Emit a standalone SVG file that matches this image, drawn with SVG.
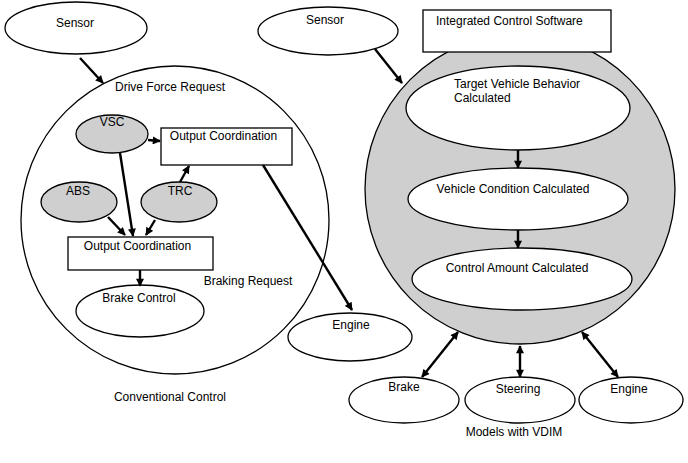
<svg xmlns="http://www.w3.org/2000/svg" width="688" height="463" viewBox="0 0 688 463">
<style>
.s{fill:#fff;stroke:#000;stroke-width:1.3}
.g{fill:#cfcfcf;stroke:#000;stroke-width:1.3}
.c{fill:none;stroke:#000;stroke-width:2.4}
.t{font-family:"Liberation Sans",Arial,sans-serif;font-size:12px;fill:#000}
.m{text-anchor:middle}
</style>
<defs>
<marker id="a" viewBox="0 0 10 10" refX="9" refY="5" markerWidth="9" markerHeight="8" markerUnits="userSpaceOnUse" orient="auto-start-reverse">
<path d="M0,0 L10,5 L0,10 z" fill="#000"/>
</marker>
</defs>
<rect width="688" height="463" fill="#fff"/>
<g id="conventional">
<circle cx="175" cy="220" r="154" class="s"/>
<text x="170" y="91" class="t m">Drive Force Request</text>
<text x="248" y="285" class="t m">Braking Request</text>
<text x="170" y="401" class="t m">Conventional Control</text>
</g>
<g id="sensor1"><ellipse cx="76" cy="28" rx="71" ry="26" class="s"/><text x="75" y="27" class="t m">Sensor</text></g>
<g id="vsc"><ellipse cx="112" cy="134" rx="36" ry="19" class="g"/><text x="112" y="126" class="t m">VSC</text></g>
<g id="oc1"><rect x="161" y="128" width="131" height="37" class="s"/><text x="223.5" y="140" class="t m">Output Coordination</text></g>
<g id="abs"><ellipse cx="79" cy="202" rx="38" ry="20" class="g"/><text x="78" y="195" class="t m">ABS</text></g>
<g id="trc"><ellipse cx="179" cy="202" rx="38" ry="20" class="g"/><text x="180" y="195" class="t m">TRC</text></g>
<g id="oc2"><rect x="68" y="237" width="145" height="33" class="s"/><text x="137.5" y="250" class="t m">Output Coordination</text></g>
<g id="brakecontrol"><ellipse cx="140" cy="311" rx="64" ry="26" class="s"/><text x="139" y="302" class="t m">Brake Control</text></g>
<g id="engine1"><ellipse cx="350" cy="337" rx="62" ry="24" class="s"/><text x="351" y="329" class="t m">Engine</text></g>
<g id="vdim">
<circle cx="520" cy="189" r="155" class="g"/>
<text x="514" y="436" class="t m">Models with VDIM</text>
</g>
<g id="ics"><rect x="423" y="10" width="188" height="42" class="s"/><text x="436" y="25" class="t">Integrated Control Software</text></g>
<g id="sensor2"><ellipse cx="328" cy="31" rx="70" ry="24" class="s"/><text x="325" y="24" class="t m">Sensor</text></g>
<g id="target"><ellipse cx="518" cy="108" rx="112" ry="42" class="s"/><text x="454" y="88" class="t">Target Vehicle Behavior</text><text x="454" y="102" class="t">Calculated</text></g>
<g id="vcond"><ellipse cx="518" cy="199" rx="110" ry="31" class="s"/><text x="513" y="193" class="t m">Vehicle Condition Calculated</text></g>
<g id="camount"><ellipse cx="522" cy="279" rx="110" ry="31" class="s"/><text x="517" y="272" class="t m">Control Amount Calculated</text></g>
<g id="brake"><ellipse cx="404" cy="400" rx="55" ry="23" class="s"/><text x="404" y="391" class="t m">Brake</text></g>
<g id="steering"><ellipse cx="520" cy="400" rx="55" ry="23" class="s"/><text x="518" y="393" class="t m">Steering</text></g>
<g id="engine2"><ellipse cx="631" cy="400" rx="52" ry="23" class="s"/><text x="629" y="393" class="t m">Engine</text></g>
<g id="connectors" class="c">
<line x1="80" y1="58" x2="103" y2="83" marker-end="url(#a)"/>
<line x1="148" y1="140" x2="160" y2="141" marker-end="url(#a)"/>
<line x1="180" y1="182" x2="189" y2="166" marker-end="url(#a)"/>
<line x1="108" y1="217" x2="125" y2="235" marker-end="url(#a)"/>
<line x1="120" y1="153" x2="133" y2="236" marker-end="url(#a)"/>
<line x1="155" y1="220" x2="146" y2="235" marker-end="url(#a)"/>
<line x1="140" y1="270" x2="140" y2="286" marker-end="url(#a)"/>
<line x1="263" y1="165" x2="352" y2="310" marker-end="url(#a)"/>
<line x1="375" y1="49" x2="402" y2="83" marker-end="url(#a)"/>
<line x1="518" y1="150" x2="518" y2="168" marker-end="url(#a)"/>
<line x1="518" y1="230" x2="518" y2="248" marker-end="url(#a)"/>
<line x1="422" y1="377" x2="458" y2="332" marker-start="url(#a)" marker-end="url(#a)"/>
<line x1="520" y1="346" x2="520" y2="377" marker-start="url(#a)" marker-end="url(#a)"/>
<line x1="582" y1="332" x2="618" y2="377" marker-start="url(#a)" marker-end="url(#a)"/>
</g>
</svg>
